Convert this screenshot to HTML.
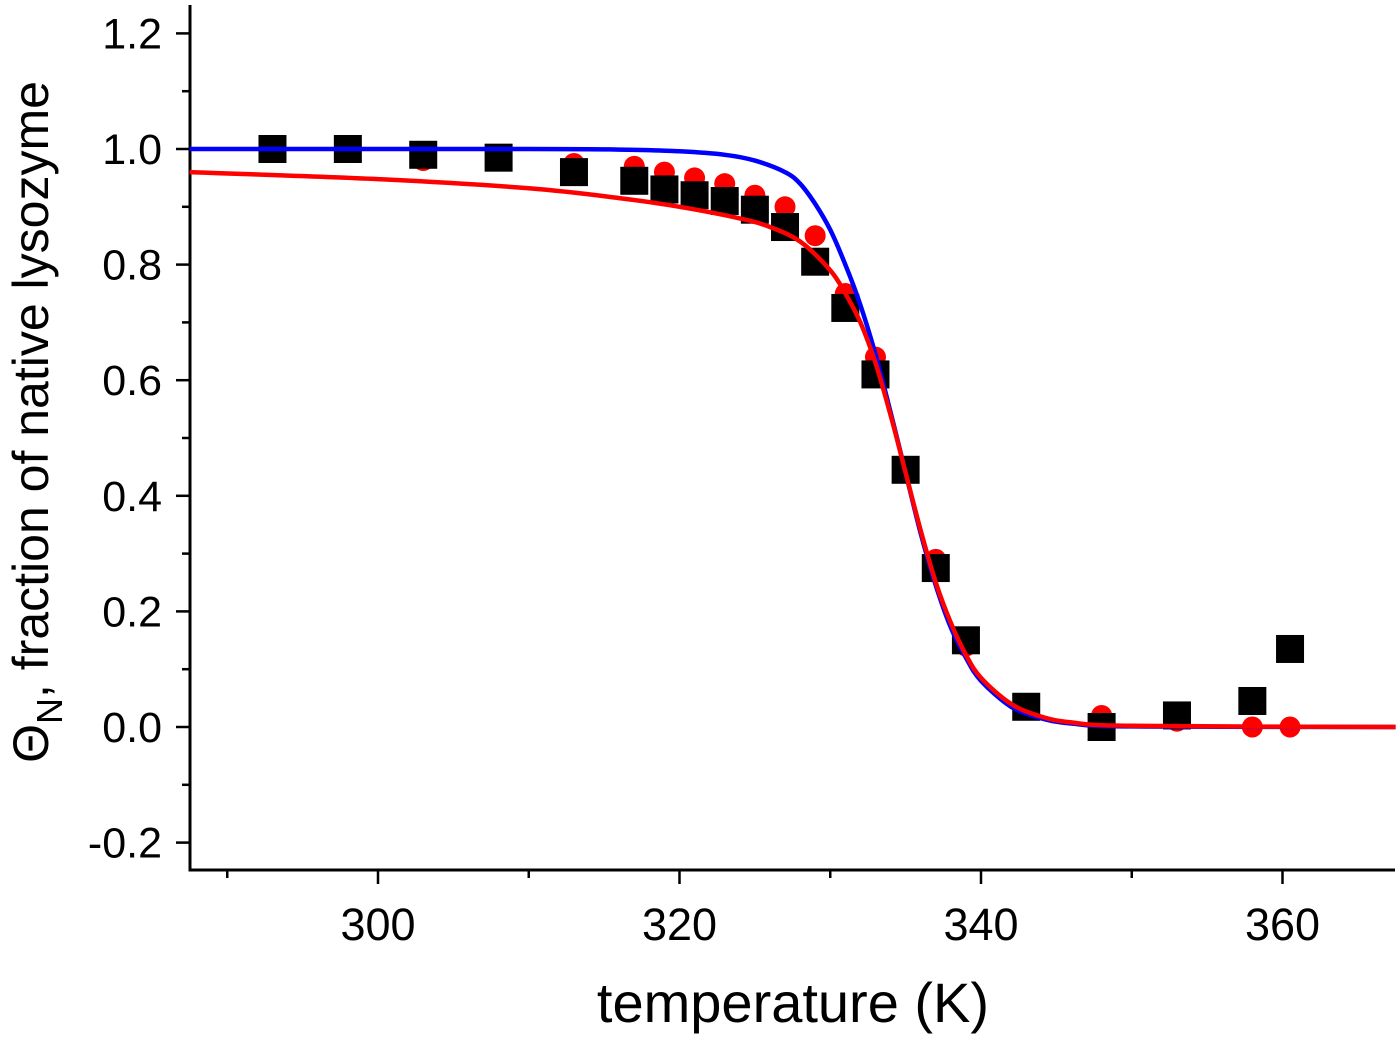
<!DOCTYPE html>
<html><head><meta charset="utf-8"><style>
body{margin:0;background:#fff;}
svg text{font-family:"Liberation Sans",sans-serif;fill:#000;}
</style></head><body>
<svg id="c" width="1400" height="1037"></svg>
<script>
const sqT=[293,298,303,308,313,317,319,321,323,325,327,329,331,333,335,337,339,343,348,353,358,360.5];
const sqV=[1.0,1.0,0.99,0.985,0.96,0.945,0.93,0.92,0.91,0.895,0.865,0.805,0.725,0.61,0.445,0.275,0.15,0.035,0.0,0.02,0.045,0.135];
const ciT=[293,298,303,308,313,317,319,321,323,325,327,329,331,333,335,337,339,343,348,353,358,360.5];
const ciV=[1.0,1.0,0.98,0.985,0.975,0.97,0.96,0.95,0.94,0.92,0.9,0.85,0.75,0.64,0.445,0.29,0.14,0.04,0.02,0.01,0.0,0.0];
const blT=[287.5,310,316,320,323,325,327,328,329,330,331,332,333,334,335,336,337,338,339,340,342,344,346,350,367.5];
const blV=[1.0,1.0,0.999,0.996,0.99,0.98,0.96,0.94,0.905,0.86,0.80,0.73,0.645,0.545,0.44,0.335,0.245,0.172,0.12,0.08,0.035,0.015,0.006,0.001,0.0];
const rdT=[287.5,300,310,316,320,324,326,328,330,331,332,333,334,335,336,337,338,339,340,342,344,346,350,367.5];
const rdV=[0.96,0.948,0.932,0.915,0.9,0.88,0.865,0.84,0.79,0.75,0.70,0.63,0.54,0.44,0.34,0.25,0.18,0.125,0.085,0.04,0.018,0.008,0.002,0.0];
const xTicks=[300,320,340,360];
const yTicks=[-0.2,0.0,0.2,0.4,0.6,0.8,1.0,1.2];

const NS="http://www.w3.org/2000/svg";
const svg=document.getElementById('c');
const X=t=>378+(t-300)*15.075;
const Y=v=>727-v*578;
function mk(tag,a,p){const e=document.createElementNS(NS,tag);for(const k in a)e.setAttribute(k,a[k]);(p||svg).appendChild(e);return e;}

let ax=mk('path',{d:`M190 5 V870 H1395`,fill:'none',stroke:'#000','stroke-width':3});


for(let t=290;t<=360;t+=10){
  const major=t%20===0;
  const tk=mk('line',{x1:X(t),x2:X(t),y1:870,y2:major?884:878,stroke:'#000','stroke-width':2.5});
  
  
}
xTicks.forEach(t=>{
  const tx=mk('text',{x:X(t),y:940,'text-anchor':'middle','font-size':45});
  tx.textContent=t;
  
  
});
for(let i=-2;i<=12;i++){
  const v=i/10, major=i%2===0;
  const tk=mk('line',{x1:major?176:182,x2:190,y1:Y(v),y2:Y(v),stroke:'#000','stroke-width':2.5});
  
  
}
yTicks.forEach(v=>{
  const tx=mk('text',{x:162,y:Y(v)+15,'text-anchor':'end','font-size':43});
  tx.textContent=v.toFixed(1);
  
  
});
const xt=mk('text',{x:793,y:1022,'text-anchor':'middle','font-size':56});
xt.textContent='temperature (K)';


const yt=mk('text',{transform:'translate(48,422) rotate(-90)','text-anchor':'middle','font-size':50});
yt.innerHTML='Θ<tspan font-size="36" dy="14">N</tspan><tspan dy="-14">, fraction of native lysozyme</tspan>';



const g=mk('g',{});
ciT.forEach((t,i)=>{
  const c=mk('circle',{cx:X(t),cy:Y(ciV[i]),r:10.5,fill:'#ff0000'},g);
  
  
});
sqT.forEach((t,i)=>{
  const r=mk('rect',{x:X(t)-14,y:Y(sqV[i])-14,width:28,height:28,fill:'#000'},g);
  
  
});
function line(T,V,col,name){
  const P=T.map((t,i)=>[X(t),Y(V[i])]);
  let d='M'+P[0][0].toFixed(1)+' '+P[0][1].toFixed(1);
  for(let i=0;i<P.length-1;i++){
    const p0=P[Math.max(0,i-1)],p1=P[i],p2=P[i+1],p3=P[Math.min(P.length-1,i+2)];
    const c1=[p1[0]+(p2[0]-p0[0])/6,p1[1]+(p2[1]-p0[1])/6];
    const c2=[p2[0]-(p3[0]-p1[0])/6,p2[1]-(p3[1]-p1[1])/6];
    d+=` C${c1[0].toFixed(1)} ${c1[1].toFixed(1)} ${c2[0].toFixed(1)} ${c2[1].toFixed(1)} ${p2[0].toFixed(1)} ${p2[1].toFixed(1)}`;
  }
  const p=mk('path',{d:d,fill:'none',stroke:col,'stroke-width':4.5,'stroke-linejoin':'round'},g);
  
  
}
line(blT,blV,'#0000ff','blue-fit-curve');
line(rdT,rdV,'#ff0000','red-fit-curve');
</script>
</body></html>
